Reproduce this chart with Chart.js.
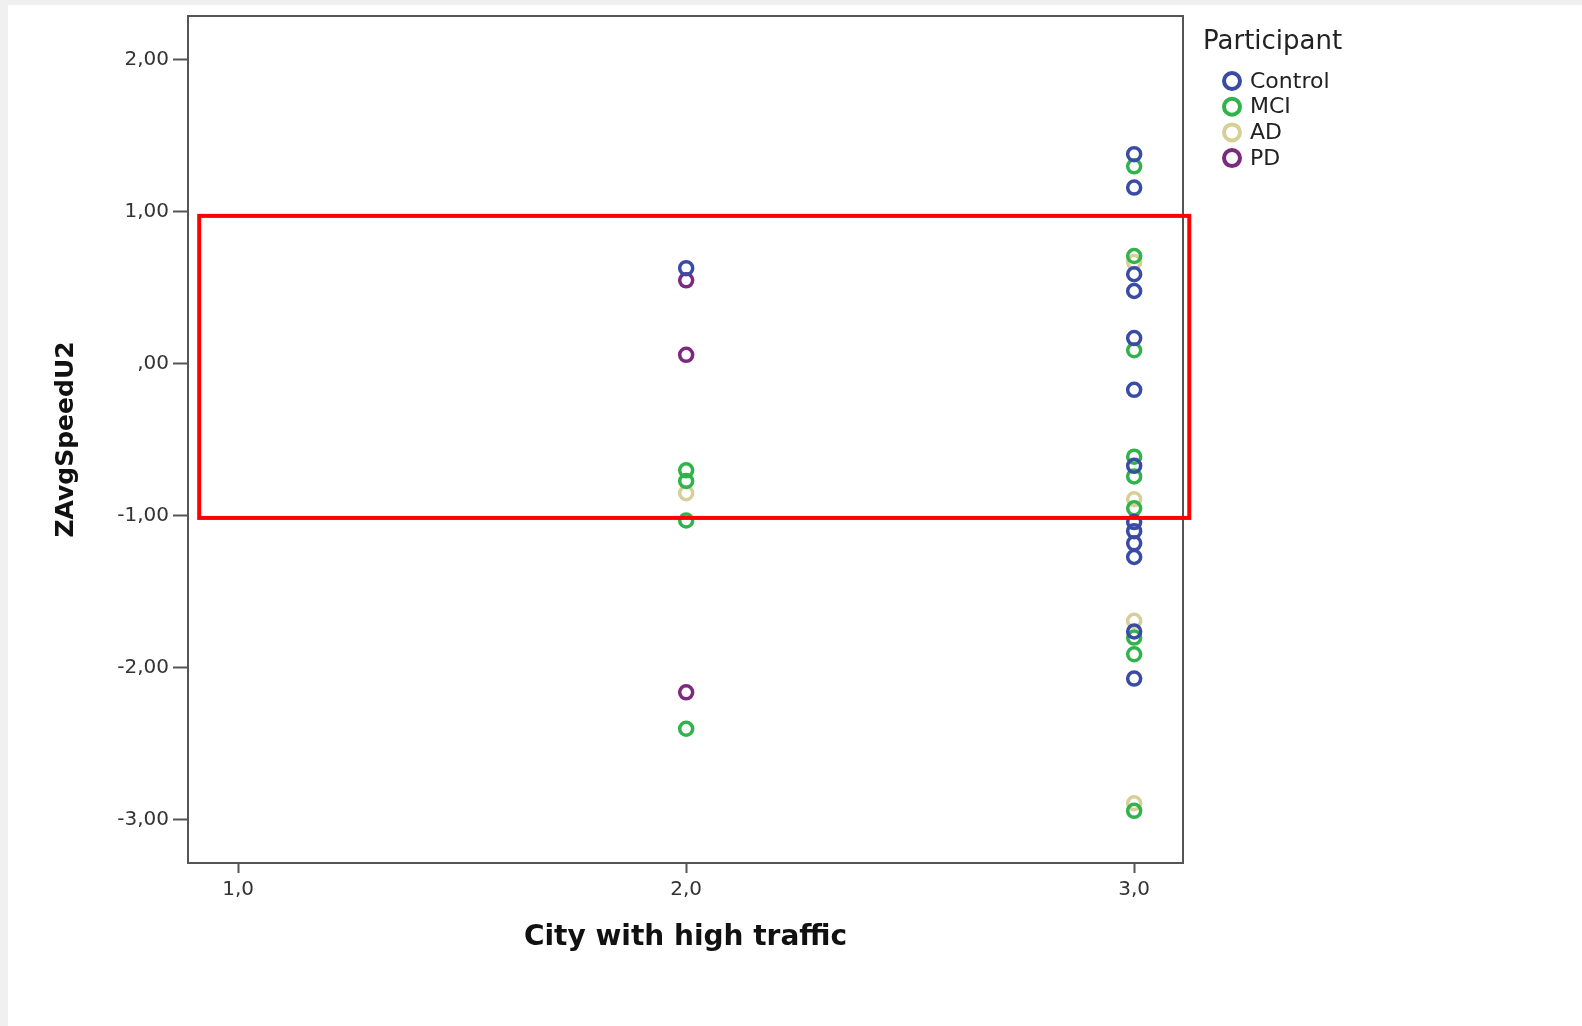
<!DOCTYPE html>
<html>
<head>
<meta charset="utf-8">
<title>ZAvgSpeedU2 by City with high traffic</title>
<script src="https://cdn.jsdelivr.net/npm/chart.js@4.4.1/dist/chart.umd.min.js"></script>
<style>
    html, body { margin: 0; padding: 0; background: #f0f0f0; }
    #sheet { position: absolute; left: 8px; top: 5px; right: 0; bottom: 0; background: #fff; }
    #wrap { position: absolute; left: 0; top: 0; width: 1582px; height: 1026px; }
</style>
</head>
<body>
<div id="sheet"></div>
<div id="wrap"><canvas id="scatter"></canvas></div>
<script>
// Participant groups
const groups = ['Control', 'MCI', 'AD', 'PD'];
const groupColors = ['#3a4ba6', '#2fb34a', '#d6cf98', '#7c2a7f'];

// City with high traffic (x) and ZAvgSpeedU2 (y) per group
const controlCity  = [2, 3, 3, 3, 3, 3, 3, 3, 3, 3, 3, 3, 3, 3];
const controlSpeed = [0.63, 1.38, 1.16, 0.59, 0.48, 0.17, -0.17, -0.67, -1.04, -1.10, -1.18, -1.27, -1.76, -2.07];

const mciCity  = [2, 2, 2, 2, 3, 3, 3, 3, 3, 3, 3, 3, 3];
const mciSpeed = [-0.70, -0.77, -1.03, -2.40, 1.30, 0.71, 0.09, -0.61, -0.74, -0.95, -1.80, -1.91, -2.94];

const adCity  = [2, 3, 3, 3, 3];
const adSpeed = [-0.85, 0.67, -0.89, -1.69, -2.89];

const pdCity  = [2, 2, 2];
const pdSpeed = [0.55, 0.06, -2.16];

// Axis ticks
const xTickValues = [1, 2, 3];
const xTickLabels = ['1,0', '2,0', '3,0'];
const yTickValues = [-3, -2, -1, 0, 1, 2];
const yTickLabels = ['-3,00', '-2,00', '-1,00', ',00', '1,00', '2,00'];

// Axis ranges
const xRange = [0.888, 3.109];
const yRange = [-3.283, 2.289];

// Highlighted region (data units)
const highlightX = [0.913, 3.123];
const highlightY = [-1.013, 0.974];

function toPoints(xs, ys) {
    return xs.map((x, i) => ({ x: x, y: ys[i] }));
}

const seriesX = [controlCity, mciCity, adCity, pdCity];
const seriesY = [controlSpeed, mciSpeed, adSpeed, pdSpeed];

const datasets = groups.map((name, i) => ({
    label: name,
    data: toPoints(seriesX[i], seriesY[i]),
    borderColor: groupColors[i],
    backgroundColor: 'rgba(255,255,255,0)',
    pointStyle: 'circle',
    pointRadius: 6.5,
    pointBorderWidth: 3.5,
    pointHoverRadius: 6.5
}));

/**
 * Frame around the plot, group legend and the red highlight box
 */
const framePlugin = {
    id: 'frame',
    afterDraw(chart) {
        const ctx = chart.ctx;
        const area = chart.chartArea;
        const xs = chart.scales.x;
        const ys = chart.scales.y;

        ctx.save();
        ctx.strokeStyle = '#555';
        ctx.lineWidth = 2;
        ctx.strokeRect(area.left, area.top, area.right - area.left, area.bottom - area.top);

        // legend
        ctx.fillStyle = '#222';
        ctx.textBaseline = 'middle';
        ctx.textAlign = 'left';
        ctx.font = '26px "DejaVu Sans"';
        ctx.fillText('Participant', 1203, 42);
        ctx.font = '22px "DejaVu Sans"';
        chart.data.datasets.forEach((ds, i) => {
            const y = 81 + i * 25.7;
            ctx.beginPath();
            ctx.strokeStyle = ds.borderColor;
            ctx.lineWidth = 4;
            ctx.arc(1232, y, 8, 0, Math.PI * 2);
            ctx.stroke();
            ctx.fillStyle = '#222';
            ctx.fillText(ds.label, 1250, y + 1);
        });

        // highlight box
        const left = xs.getPixelForValue(highlightX[0]);
        const right = xs.getPixelForValue(highlightX[1]);
        const top = ys.getPixelForValue(highlightY[1]);
        const bottom = ys.getPixelForValue(highlightY[0]);
        ctx.strokeStyle = '#ff0000';
        ctx.lineWidth = 4;
        ctx.strokeRect(left, top, right - left, bottom - top);
        ctx.restore();
    }
};

const ctx = document.getElementById('scatter').getContext('2d');

new Chart(ctx, {
    type: 'scatter',
    data: { datasets: datasets },
    options: {
        responsive: true,
        maintainAspectRatio: false,
        animation: false,
        layout: {
            padding: { left: 38, top: 16, right: 399, bottom: 63 }
        },
        plugins: {
            legend: { display: false },
            tooltip: { enabled: false }
        },
        scales: {
            x: {
                type: 'linear',
                min: xRange[0],
                max: xRange[1],
                afterFit: (scale) => { scale.height = 100; },
                afterBuildTicks: (scale) => {
                    scale.ticks = xTickValues.map(v => ({ value: v }));
                },
                grid: {
                    display: true,
                    drawOnChartArea: false,
                    drawTicks: true,
                    tickLength: 10,
                    tickWidth: 2,
                    tickColor: '#555'
                },
                border: { display: true, color: '#555', width: 2 },
                ticks: {
                    padding: 5,
                    color: '#333',
                    font: { family: 'DejaVu Sans', size: 20 },
                    callback: (value) => xTickLabels[xTickValues.indexOf(value)]
                },
                title: {
                    display: true,
                    text: 'City with high traffic',
                    color: '#111',
                    font: { family: 'DejaVu Sans', size: 28, weight: 'bold' },
                    padding: { top: 0, bottom: 8 }
                }
            },
            y: {
                type: 'linear',
                min: yRange[0],
                max: yRange[1],
                afterFit: (scale) => { scale.width = 150; },
                afterBuildTicks: (scale) => {
                    scale.ticks = yTickValues.map(v => ({ value: v }));
                },
                grid: {
                    display: true,
                    drawOnChartArea: false,
                    drawTicks: true,
                    tickLength: 15,
                    tickWidth: 2,
                    tickColor: '#555'
                },
                border: { display: true, color: '#555', width: 2 },
                ticks: {
                    padding: 4,
                    color: '#333',
                    font: { family: 'DejaVu Sans', size: 20 },
                    callback: (value) => yTickLabels[yTickValues.indexOf(value)]
                },
                title: {
                    display: true,
                    text: 'ZAvgSpeedU2',
                    color: '#111',
                    font: { family: 'DejaVu Sans', size: 25, weight: 'bold' },
                    padding: { top: 13, bottom: 0 }
                }
            }
        }
    },
    plugins: [framePlugin]
});
</script>
</body>
</html>
